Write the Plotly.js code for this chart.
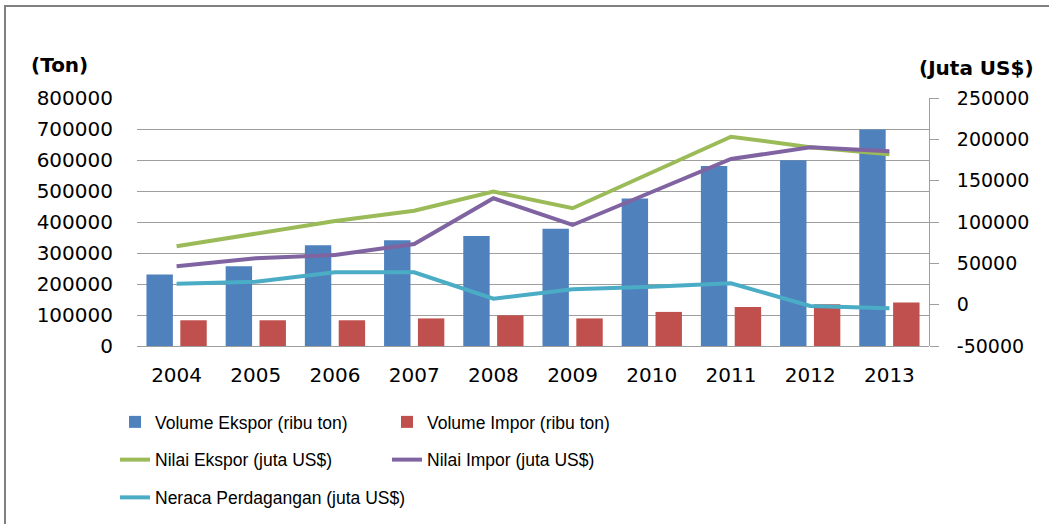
<!DOCTYPE html>
<html>
<head>
<meta charset="utf-8">
<script src="https://cdn.plot.ly/plotly-3.0.1.min.js"></script>
<style>html,body{margin:0;padding:0;background:#fff;}#chart{width:1049px;height:524px;}</style>
</head>
<body>
<div id="chart"></div>
<script>
const years = ['2004','2005','2006','2007','2008','2009','2010','2011','2012','2013'];
const volumeEkspor = [231000, 257000, 325000, 341000, 355000, 378000, 476000, 581000, 599000, 698000];
const volumeImpor = [83000, 83000, 83000, 89000, 99000, 89000, 110000, 126000, 135000, 140000];
const nilaiEkspor = [70600, 85500, 101200, 113700, 136700, 116600, 159700, 203200, 190400, 181900];
const nilaiImpor = [46400, 56100, 60100, 73400, 128700, 96400, 136300, 176200, 190400, 185500];
const neraca = [25400, 27800, 39200, 39200, 7300, 18600, 21800, 25900, -1600, -4400];
const leftTicks = [0, 100000, 200000, 300000, 400000, 500000, 600000, 700000, 800000];
const rightTicks = [-50000, 0, 50000, 100000, 150000, 200000, 250000];

const tickFont = {family: 'DejaVu Sans, sans-serif', size: 20, color: '#000'};
const legFont = {family: 'Liberation Sans, sans-serif', size: 17.5, color: '#000'};

const traces = [
  {type: 'bar', name: 'Volume Ekspor (ribu ton)', x: years, y: volumeEkspor, marker: {color: '#4F81BD'}, legend: 'legend', legendgroup: 'a'},
  {type: 'bar', name: 'Volume Impor (ribu ton)', x: years, y: volumeImpor, marker: {color: '#C0504D'}, legend: 'legend2', legendgroup: 'b'},
  {type: 'scatter', mode: 'lines', name: 'Nilai Ekspor (juta US$)', x: years, y: nilaiEkspor, yaxis: 'y2', line: {color: '#9BBB59', width: 4}, legend: 'legend', legendgroup: 'c'},
  {type: 'scatter', mode: 'lines', name: 'Nilai Impor (juta US$)', x: years, y: nilaiImpor, yaxis: 'y2', line: {color: '#8064A2', width: 4}, legend: 'legend2', legendgroup: 'd'},
  {type: 'scatter', mode: 'lines', name: 'Neraca Perdagangan (juta US$)', x: years, y: neraca, yaxis: 'y2', line: {color: '#4BACC6', width: 4}, legend: 'legend', legendgroup: 'e'}
];

const layout = {
  width: 1049, height: 524,
  margin: {l: 137, r: 120, t: 98, b: 178, autoexpand: false},
  paper_bgcolor: '#fff', plot_bgcolor: '#fff',
  barmode: 'group', bargap: 0.145, bargroupgap: 0.22,
  showlegend: true,
  xaxis: {type: 'category', tickfont: tickFont, tickangle: 0, showgrid: false, showline: false, ticks: '', ticklabelstandoff: 15, fixedrange: true, automargin: false},
  yaxis: {range: [0, 800000], tickvals: leftTicks, ticktext: leftTicks.map(String), tickfont: tickFont, automargin: false,
          showgrid: true, gridcolor: '#9E9E9E', gridwidth: 1, zeroline: true, zerolinecolor: '#9E9E9E', zerolinewidth: 1,
          showline: false, ticks: '', ticklabelstandoff: 23},
  yaxis2: {overlaying: 'y', side: 'right', range: [-50000, 250000], tickvals: rightTicks, ticktext: rightTicks.map(String), automargin: false,
           tickfont: {family: 'DejaVu Sans, sans-serif', size: 19, color: '#000'},
           showgrid: false, zeroline: false, showline: true, linecolor: '#9E9E9E', linewidth: 1,
           ticks: 'outside', ticklen: 9, tickcolor: '#9E9E9E', ticklabelstandoff: 14},
  legend: {xref: 'container', yref: 'container', x: 115/1049, y: 1 - 404/524, xanchor: 'left', yanchor: 'top',
           orientation: 'v', font: legFont, tracegroupgap: 12, bgcolor: 'rgba(0,0,0,0)', itemwidth: 30, traceorder: 'grouped'},
  legend2: {xref: 'container', yref: 'container', x: 387/1049, y: 1 - 404/524, xanchor: 'left', yanchor: 'top',
           orientation: 'v', font: legFont, tracegroupgap: 12, bgcolor: 'rgba(0,0,0,0)', itemwidth: 30, traceorder: 'grouped'},
  annotations: [
    {text: '<b>(Ton)</b>', xref: 'paper', yref: 'paper', x: (29-137)/792, y: (346-65)/248, xanchor: 'left', yanchor: 'middle', showarrow: false,
     font: {family: 'DejaVu Sans, sans-serif', size: 20, color: '#000'}},
    {text: '<b>(Juta US$)</b>', xref: 'paper', yref: 'paper', x: (1036-137)/792, y: (346-68)/248, xanchor: 'right', yanchor: 'middle', showarrow: false,
     font: {family: 'DejaVu Sans, sans-serif', size: 20, color: '#000'}}
  ],
  shapes: [
    {type: 'rect', xref: 'paper', yref: 'paper', x0: (5-137)/792, x1: (1070-137)/792, y0: (346-560)/248, y1: (346-6)/248,
     line: {color: '#808080', width: 2}, fillcolor: 'rgba(0,0,0,0)', layer: 'below'}
  ]
};

Plotly.newPlot('chart', traces, layout, {displayModeBar: false, staticPlot: true});
</script>
</body>
</html>
